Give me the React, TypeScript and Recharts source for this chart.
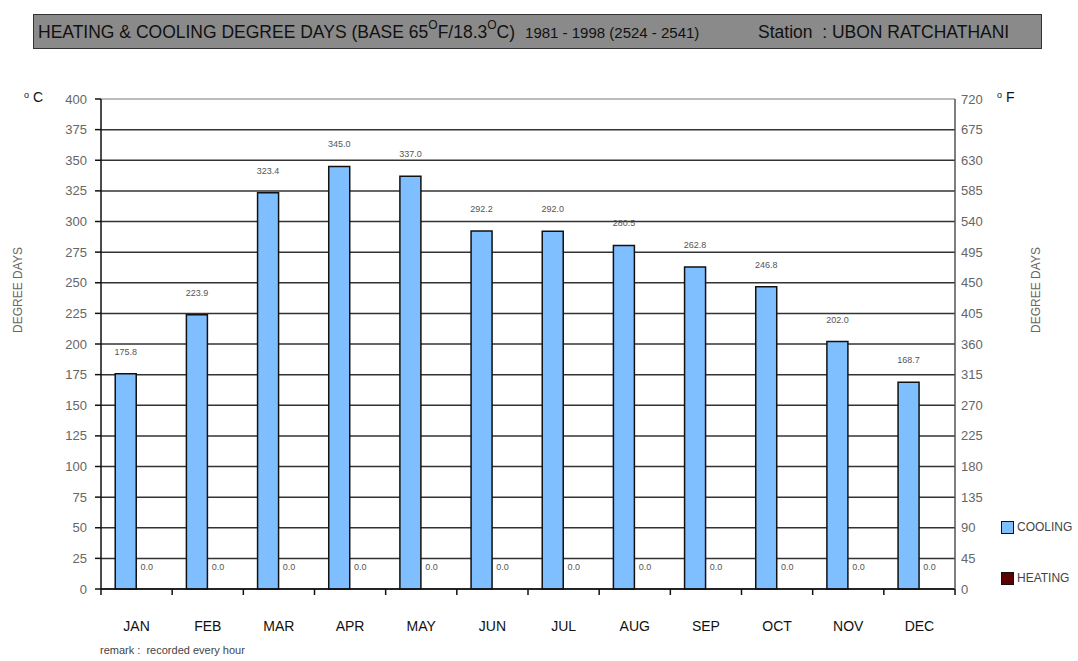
import React from 'react';
import { Bar, Line, XAxis, YAxis, CartesianGrid, LabelList, ReferenceLine, ComposedChart } from 'recharts';

const months = ['JAN', 'FEB', 'MAR', 'APR', 'MAY', 'JUN', 'JUL', 'AUG', 'SEP', 'OCT', 'NOV', 'DEC'];
const cooling = [175.8, 223.9, 323.4, 345.0, 337.0, 292.2, 292.0, 280.5, 262.8, 246.8, 202.0, 168.7];
const heating = [0, 0, 0, 0, 0, 0, 0, 0, 0, 0, 0, 0];
const celsiusTicks = [0, 25, 50, 75, 100, 125, 150, 175, 200, 225, 250, 275, 300, 325, 350, 375, 400];
const fahrenheitTicks = [0, 45, 90, 135, 180, 225, 270, 315, 360, 405, 450, 495, 540, 585, 630, 675, 720];

const data = months.map((m, i) => ({ month: m, cooling: cooling[i], heating: heating[i], heatingF: heating[i] * 1.8 }));

const FONT = '"Liberation Sans", Arial, sans-serif';
const COOL = '#80bfff';
const HEAT = '#5c0000';

const ValueLabel = (props: any) => {
  const { x, y, width, value } = props;
  return (
    <text x={x + width / 2} y={y - 19} textAnchor="middle" fontSize={9} fill="#555" fontFamily={FONT}>
      {Number(value).toFixed(1)}
    </text>
  );
};

const HeatingShape = (props: any) => {
  const { x, y, width, height, payload } = props;
  const v = payload ? payload.heating : 0;
  const h = Math.max(0, height || 0);
  return (
    <g>
      <rect x={x} y={y} width={width} height={h} fill={HEAT} stroke="#111" strokeWidth={1.5} />
      <text x={x + width / 2} y={y - 19} textAnchor="middle" fontSize={9} fill="#555" fontFamily={FONT}>
        {Number(v).toFixed(1)}
      </text>
    </g>
  );
};

const MonthTick = (props: any) => {
  const { x, y, payload, index } = props;
  const half = payload && payload.offset ? payload.offset : 35.6;
  return (
    <g>
      <line x1={x - half} x2={x - half} y1={y} y2={y + 6} stroke="#111" strokeWidth={1.5} />
      {index === months.length - 1 && (
        <line x1={x + half} x2={x + half} y1={y} y2={y + 6} stroke="#111" strokeWidth={1.5} />
      )}
      <text x={x} y={y + 42} textAnchor="middle" fontSize={14} fill="#111" fontFamily={FONT}>
        {payload.value}
      </text>
    </g>
  );
};

const degree = (size: number) => (
  <span style={{ fontSize: size, position: 'relative', top: -size * 0.75 }}>O</span>
);

export default function App() {
  return (
    <div style={{ position: 'absolute', left: 0, top: 0, width: 1078, height: 661, background: '#fff', fontFamily: FONT }}>
      <div
        style={{
          position: 'absolute', left: 33, top: 14, width: 1007, height: 33,
          background: '#8a8a8a', border: '1px solid #333', boxSizing: 'content-box',
        }}
      >
        <div style={{ position: 'absolute', left: 4, top: 7, fontSize: 17.5, color: '#111', whiteSpace: 'nowrap' }}>
          HEATING &amp; COOLING DEGREE DAYS (BASE 65{degree(12)}F/18.3{degree(12)}C)
          <span style={{ fontSize: 15, marginLeft: 10 }}>1981 - 1998 (2524 - 2541)</span>
        </div>
        <div style={{ position: 'absolute', left: 724, top: 7, fontSize: 17.5, color: '#111', whiteSpace: 'nowrap' }}>
          Station&nbsp;&nbsp;: UBON RATCHATHANI
        </div>
      </div>

      <div style={{ position: 'absolute', left: 24, top: 89, fontSize: 14, color: '#111' }}>
        <span style={{ fontSize: 9, position: 'relative', top: -4 }}>o</span> C
      </div>
      <div style={{ position: 'absolute', left: 997, top: 89, fontSize: 14, color: '#111' }}>
        <span style={{ fontSize: 9, position: 'relative', top: -4 }}>o</span> F
      </div>

      <div style={{ position: 'absolute', left: 18, top: 290, transform: 'translate(-50%, -50%) rotate(-90deg)', fontSize: 12, color: '#666', whiteSpace: 'nowrap' }}>
        DEGREE DAYS
      </div>
      <div style={{ position: 'absolute', left: 1036, top: 290, transform: 'translate(-50%, -50%) rotate(-90deg)', fontSize: 12, color: '#666', whiteSpace: 'nowrap' }}>
        DEGREE DAYS
      </div>

      <div style={{ position: 'absolute', left: 1001, top: 520, display: 'flex', alignItems: 'center', fontSize: 12, color: '#444' }}>
        <div style={{ width: 11, height: 11, background: COOL, border: '1px solid #111', marginRight: 3 }} />
        COOLING
      </div>
      <div style={{ position: 'absolute', left: 1001, top: 571, display: 'flex', alignItems: 'center', fontSize: 12, color: '#444' }}>
        <div style={{ width: 11, height: 11, background: HEAT, border: '1px solid #111', marginRight: 3 }} />
        HEATING
      </div>

      <div style={{ position: 'absolute', left: 100, top: 644, fontSize: 11, color: '#444' }}>
        remark :&nbsp;&nbsp;recorded every hour
      </div>

      <div style={{ position: 'absolute', left: 0, top: 0 }}>
        <ComposedChart
          width={1078}
          height={661}
          data={data}
          margin={{ top: 99, right: 63, left: 41, bottom: 32 }}
          barCategoryGap="20%"
          barGap={0}
        >
          <CartesianGrid yAxisId="left" vertical={false} stroke="#333" strokeWidth={1.5} />
          <ReferenceLine yAxisId="left" y={400} stroke="#bbb" strokeWidth={2} />
          <XAxis
            dataKey="month"
            height={40}
            tickLine={false}
            tickSize={0}
            tickMargin={0}
            axisLine={{ stroke: '#111', strokeWidth: 1.5 }}
            tick={<MonthTick />}
            interval={0}
          />
          <YAxis
            yAxisId="left"
            width={60}
            domain={[0, 400]}
            ticks={celsiusTicks}
            interval={0}
            tickSize={6}
            tickMargin={8}
            axisLine={{ stroke: '#111', strokeWidth: 1.5 }}
            tickLine={{ stroke: '#111', strokeWidth: 1.5 }}
            tick={{ fill: '#666', fontSize: 13, fontFamily: FONT }}
          />
          <YAxis
            yAxisId="right"
            orientation="right"
            width={60}
            domain={[0, 720]}
            ticks={fahrenheitTicks}
            interval={0}
            tickSize={0}
            tickMargin={6}
            axisLine={{ stroke: '#555', strokeWidth: 1.5 }}
            tickLine={false}
            tick={{ fill: '#666', fontSize: 13, fontFamily: FONT, textAnchor: 'start' }}
          />
          <Bar yAxisId="left" dataKey="cooling" fill={COOL} stroke="#111" strokeWidth={1.5} isAnimationActive={false}>
            <LabelList dataKey="cooling" content={<ValueLabel />} />
          </Bar>
          <Bar yAxisId="left" dataKey="heating" fill={HEAT} stroke="#111" strokeWidth={1.5} isAnimationActive={false} shape={<HeatingShape />} />
          <Line yAxisId="right" dataKey="heatingF" stroke="transparent" dot={false} activeDot={false} legendType="none" isAnimationActive={false} />
        </ComposedChart>
      </div>
    </div>
  );
}
